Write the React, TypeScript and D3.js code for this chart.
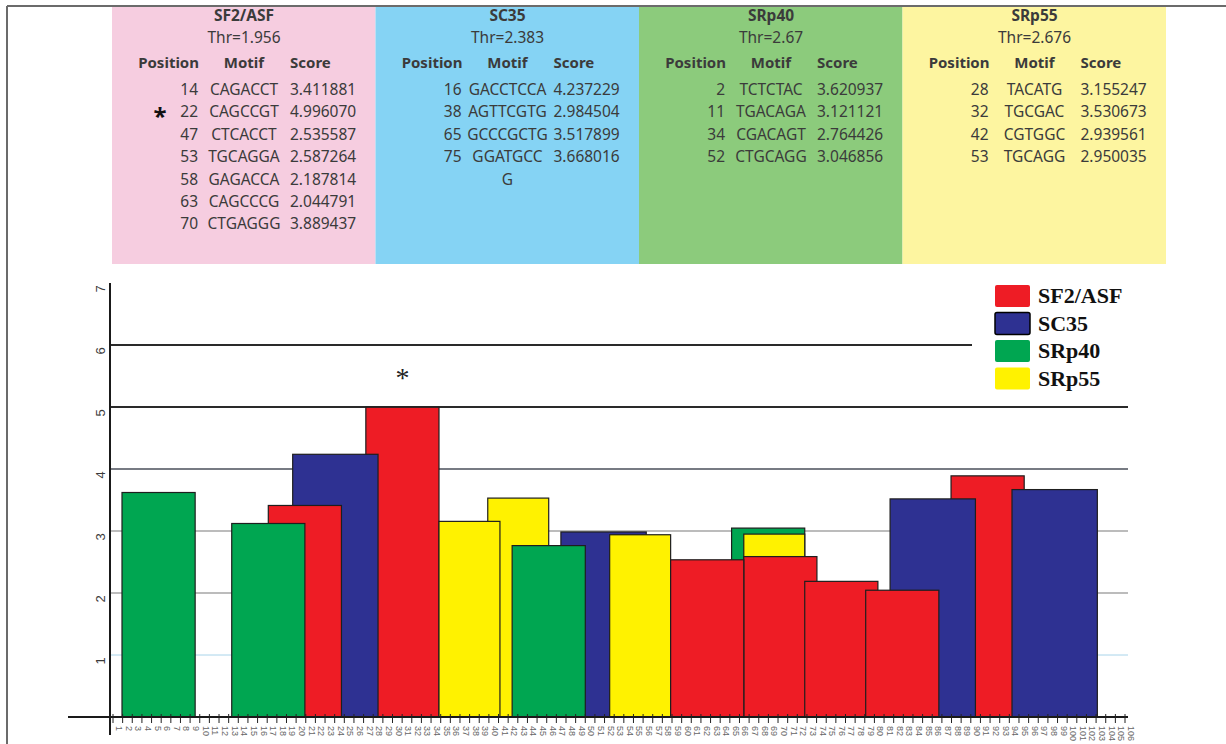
import React from "react";
import * as d3 from "d3";

// Splicing-factor motif hits: position, motif, score
const factors = ["SF2/ASF", "SC35", "SRp40", "SRp55"];
const thresholds = ["1.956", "2.383", "2.67", "2.676"];
const factorColors = ["#ee1c25", "#2e3192", "#00a651", "#fff200"];
const panelColors = ["#f6cde0", "#85d3f4", "#8ccb7c", "#fdf5a0"];

const sf2Positions = [14, 22, 47, 53, 58, 63, 70];
const sf2Motifs = ["CAGACCT", "CAGCCGT", "CTCACCT", "TGCAGGA", "GAGACCA", "CAGCCCG", "CTGAGGG"];
const sf2Scores = ["3.411881", "4.996070", "2.535587", "2.587264", "2.187814", "2.044791", "3.889437"];

const sc35Positions = [16, 38, 65, 75];
const sc35Motifs = ["GACCTCCA", "AGTTCGTG", "GCCCGCTG", "GGATGCC G"];
const sc35Scores = ["4.237229", "2.984504", "3.517899", "3.668016"];

const srp40Positions = [2, 11, 34, 52];
const srp40Motifs = ["TCTCTAC", "TGACAGA", "CGACAGT", "CTGCAGG"];
const srp40Scores = ["3.620937", "3.121121", "2.764426", "3.046856"];

const srp55Positions = [28, 32, 42, 53];
const srp55Motifs = ["TACATG", "TGCGAC", "CGTGGC", "TGCAGG"];
const srp55Scores = ["3.155247", "3.530673", "2.939561", "2.950035"];

const starredFactor = 0;
const starredPosition = 22;

const yTicks = [1, 2, 3, 4, 5, 6, 7];
const axisTickCount = 105;

type Hit = { factor: number; pos: number; motif: string; score: string; value: number; len: number };

const tables = [
  { positions: sf2Positions, motifs: sf2Motifs, scores: sf2Scores },
  { positions: sc35Positions, motifs: sc35Motifs, scores: sc35Scores },
  { positions: srp40Positions, motifs: srp40Motifs, scores: srp40Scores },
  { positions: srp55Positions, motifs: srp55Motifs, scores: srp55Scores },
];

const hits: Hit[] = tables.flatMap((t, f) =>
  t.positions.map((p, i) => {
    const m = t.motifs[i];
    return { factor: f, pos: p, motif: m, score: t.scores[i], value: +t.scores[i], len: m.replace(/\s/g, "").length };
  })
);

const W = 1226;
const H = 744;

export default function App() {
  // Nucleotide position -> pixel
  const x = d3.scaleLinear().domain([2, 75]).range([122, 1012]);
  const y = d3.scaleLinear().domain([0, 7]).range([717, 283]);
  const tickX = d3.scaleLinear().domain([0, axisTickCount]).range([113, 1125]);

  const axisX = 110;
  const plotRight = 1128;
  const legendX = 995;

  // taller bars first so the shorter ones stay visible in front
  const bars = [...hits].sort((a, b) => b.value - a.value);

  const panelLeft = 112;
  const panelW = 263.5;
  const rowY = (i: number) => 95 + i * 22.4;
  const tableFont = "'Noto Sans', 'Open Sans', sans-serif";
  const textColor = "#3b3b3b";

  const star = hits.find((h) => h.factor === starredFactor && h.pos === starredPosition)!;

  const gridStyle = (v: number) => {
    if (v >= 5) return { stroke: "#2a2a2a", width: 2 };
    if (v === 4) return { stroke: "#4a4f5a", width: 1.6 };
    if (v >= 2) return { stroke: "#7a7a7a", width: 1.2 };
    return { stroke: "#a8d4ea", width: 1 };
  };

  return (
    <svg width={W} height={H} style={{ position: "absolute", left: 0, top: 0, background: "#fff" }}>
      {/* frame */}
      <line x1={7} y1={6} x2={W} y2={6} stroke="#6b6b6b" strokeWidth={2} />
      <line x1={7} y1={6} x2={7} y2={H} stroke="#6b6b6b" strokeWidth={2} />

      {/* motif tables */}
      {tables.map((t, f) => {
        const left = panelLeft + f * panelW;
        const cx = left + 132;
        return (
          <g key={f} fontFamily={tableFont} fill={textColor}>
            <rect x={left} y={7} width={panelW} height={257} fill={panelColors[f]} />
            <text x={cx} y={21} textAnchor="middle" fontSize={15.5} fontWeight="bold">{factors[f]}</text>
            <text x={cx} y={43} textAnchor="middle" fontSize={15.5}>{`Thr=${thresholds[f]}`}</text>
            <text x={left + 87} y={68} textAnchor="end" fontSize={15} fontWeight="bold">Position</text>
            <text x={cx} y={68} textAnchor="middle" fontSize={15} fontWeight="bold">Motif</text>
            <text x={left + 178} y={68} fontSize={15} fontWeight="bold">Score</text>
            {(() => {
              let row = 0;
              return t.positions.map((p, i) => {
                const lines = t.motifs[i].split(" ");
                const r = row;
                row += lines.length;
                return (
                  <g key={i} fontSize={15.5}>
                    <text x={left + 86} y={rowY(r)} textAnchor="end">{p}</text>
                    {lines.map((ln, k) => (
                      <text key={k} x={cx} y={rowY(r + k)} textAnchor="middle">{ln}</text>
                    ))}
                    <text x={left + 178} y={rowY(r)}>{t.scores[i]}</text>
                    {f === starredFactor && p === starredPosition && (
                      <text x={left + 48} y={rowY(r) + 8} textAnchor="middle" fontSize={24} fontWeight="bold" fill="#111">*</text>
                    )}
                  </g>
                );
              });
            })()}
          </g>
        );
      })}

      {/* horizontal grid */}
      {yTicks.filter((v) => v < 7).map((v) => {
        const s = gridStyle(v);
        const end = v === 6 ? legendX - 23 : plotRight;
        return <line key={v} x1={axisX} x2={end} y1={y(v)} y2={y(v)} stroke={s.stroke} strokeWidth={s.width} />;
      })}

      {/* bars */}
      {bars.map((b, i) => (
        <rect
          key={i}
          x={x(b.pos)}
          y={y(b.value)}
          width={x(b.pos + b.len - 1) - x(b.pos)}
          height={y(0) - y(b.value)}
          fill={factorColors[b.factor]}
          stroke="#1e1e1e"
          strokeWidth={1.2}
        />
      ))}

      {/* highlighted hit */}
      <text
        x={(x(star.pos) + x(star.pos + star.len - 1)) / 2}
        y={y(star.value) - 20}
        textAnchor="middle"
        fontFamily="'Liberation Serif', serif"
        fontSize={28}
        fill="#222"
      >
        *
      </text>

      {/* y axis */}
      <line x1={axisX} x2={axisX} y1={y(7)} y2={735} stroke="#1a1a1a" strokeWidth={2} />
      {yTicks.map((v) => (
        <text
          key={v}
          transform={`translate(${axisX - 5},${y(v) + 6}) rotate(-90)`}
          textAnchor="middle"
          fontFamily="'Liberation Sans', sans-serif"
          fontSize={13}
          fill="#3a3a3a"
        >
          {v}
        </text>
      ))}

      {/* x axis */}
      <line x1={68} x2={plotRight} y1={y(0)} y2={y(0)} stroke="#1a1a1a" strokeWidth={2} />
      {d3.range(0, axisTickCount + 1).map((t) => (
        <g key={t}>
          <line x1={tickX(t)} x2={tickX(t)} y1={y(0) - 3} y2={y(0) + 6} stroke="#222" strokeWidth={1} />
          <text
            transform={`translate(${tickX(t) + 3},${y(0) + 9}) rotate(90)`}
            fontFamily="'Liberation Sans', sans-serif"
            fontSize={9}
            fill="#666"
          >
            {t + 1}
          </text>
        </g>
      ))}

      {/* legend */}
      {factors.map((name, i) => (
        <g key={name} transform={`translate(${legendX},${285 + i * 27.5})`}>
          <rect width={35} height={22} rx={2} fill={factorColors[i]} stroke={i === 1 ? "#000" : "none"} strokeWidth={1.5} />
          <text x={43} y={18} fontFamily="'Liberation Serif', 'Times New Roman', serif" fontWeight="bold" fontSize={22} fill="#111">
            {name}
          </text>
        </g>
      ))}
    </svg>
  );
}
